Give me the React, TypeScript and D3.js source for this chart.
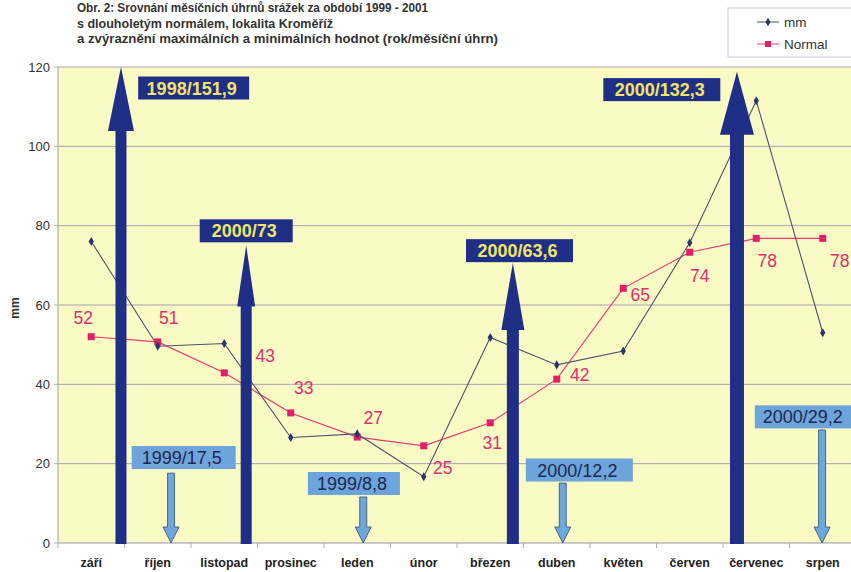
import React from "react";
import * as d3 from "d3";

const categories = ["září", "říjen", "listopad", "prosinec", "leden", "únor", "březen", "duben", "květen", "červen", "červenec", "srpen"];
const mmValues = [76.0, 49.6, 50.3, 26.6, 27.5, 16.7, 51.8, 44.9, 48.4, 75.7, 111.5, 53.0];
const normalValues = [52.0, 50.7, 42.9, 32.8, 26.7, 24.5, 30.3, 41.3, 64.2, 73.3, 76.8, 76.8];
const normalLabels = ["52", "51", "43", "33", "27", "25", "31", "42", "65", "74", "78", "78"];
const yTicks = [0, 20, 40, 60, 80, 100, 120];
const titleLines = [
  "Obr. 2: Srovnání měsíčních úhrnů srážek za období 1999 - 2001",
  "s dlouholetým normálem, lokalita Kroměříž",
  "a zvýraznění maximálních a minimálních hodnot (rok/měsíční úhrn)",
];
const legendLabels = ["mm", "Normal"];

// maxima annotations (label, arrow position as category index, arrow tip value)
const maxLabels = ["1998/151,9", "2000/73", "2000/63,6", "2000/132,3"];
const maxArrowAt = [0.947, 2.83, 6.84, 10.21];
const maxArrowTip = [120, 75, 70.6, 118.8];
// minima annotations
const minLabels = ["1999/17,5", "1999/8,8", "2000/12,2", "2000/29,2"];
const minArrowAt = [1.70, 4.59, 7.59, 11.49];
const minArrowTop = [17.6, 11.6, 15.1, 28.5];

// layout (not data)
const titleWidths = [351, 256, 421];
const maxBoxAt = [[2.04, 114.7], [2.83, 78.7], [6.94, 73.7], [9.08, 114.3]];
const maxBoxW = [111, 93, 107, 117];
const maxHead = [[26, 64], [18, 61], [23, 67], [34, 63]];
const maxShaft = [11, 11, 12, 14];
const minBoxAt = [[1.89, 21.55], [4.45, 15.0], [7.84, 18.4], [11.23, 31.8]];
const minBoxW = [104, 92, 107, 100];
const labelOffsets = [[-8, -19], [11, -24], [41, -17], [13, -25], [16, -19], [19, 22], [2, 20], [23, -4], [17, 7], [10, 24], [11, 23], [17, 23]];

const W = 851, H = 572;
const left = 58, right = 856, top = 67, bottom = 543;

export default function App() {
  const x = d3.scaleBand<string>().domain(categories).range([left, right]).padding(0);
  const xi = d3.scaleLinear().domain([0, categories.length]).range([left, right]);
  const y = d3.scaleLinear().domain([0, 120]).range([bottom, top]);
  const cx = (i: number) => (x(categories[i]) as number) + x.bandwidth() / 2;

  const line = d3.line<number>().x((_, i) => cx(i)).y((d) => y(d));

  const upArrow = (xc: number, tip: number, base: number, sw: number, hw: number, hh: number) => {
    const yt = y(tip);
    const yb = base;
    return `M${xc},${yt} L${xc + hw / 2},${yt + hh} L${xc + sw / 2},${yt + hh} L${xc + sw / 2},${yb} L${xc - sw / 2},${yb} L${xc - sw / 2},${yt + hh} L${xc - hw / 2},${yt + hh} Z`;
  };
  const downArrow = (xc: number, topV: number, sw: number, hw: number, hh: number) => {
    const yt = y(topV);
    const yb = y(0);
    return `M${xc - sw / 2},${yt} L${xc + sw / 2},${yt} L${xc + sw / 2},${yb - hh} L${xc + hw / 2},${yb - hh} L${xc},${yb} L${xc - hw / 2},${yb - hh} L${xc - sw / 2},${yb - hh} Z`;
  };

  const font = "Liberation Sans, Arial, sans-serif";
  const navy = "#1f2f86";

  return (
    <svg width={W} height={H} style={{ position: "absolute", left: 0, top: 0, background: "#fff" }} fontFamily={font}>
      {/* title */}
      {titleLines.map((t, i) => (
        <text key={i} x={77} y={12 + i * 15.5} fontSize={12} fontWeight="bold" fill="#333" textLength={titleWidths[i]} lengthAdjust="spacingAndGlyphs">{t}</text>
      ))}
      {/* legend */}
      <rect x={728} y={8} width={130} height={49} fill="#fff" stroke="#c8c8d8" strokeWidth={1} />
      <line x1={757} x2={779} y1={22} y2={22} stroke="#4a5070" strokeWidth={1} />
      <path d={d3.symbol(d3.symbolDiamond, 22)() as string} transform={`translate(768,22)`} fill="#2a356a" />
      <text x={784} y={26.5} fontSize={13.5} fill="#333">{legendLabels[0]}</text>
      <line x1={757} x2={779} y1={44} y2={44} stroke="#e83a6e" strokeWidth={1} />
      <rect x={765} y={41} width={6} height={6} fill="#e0206a" />
      <text x={784} y={48.5} fontSize={13.5} fill="#333">{legendLabels[1]}</text>

      {/* plot area */}
      <rect x={left} y={top} width={right - left} height={bottom - top} fill="#fafac4" />
      {yTicks.filter((t) => t > 0).map((t) => (
        <line key={t} x1={left} x2={right} y1={y(t)} y2={y(t)} stroke="#ac9fb8" strokeWidth={1} />
      ))}
      <line x1={left} x2={left} y1={top} y2={bottom} stroke="#a0a0a8" strokeWidth={1} />
      <line x1={left} x2={right} y1={bottom} y2={bottom} stroke="#9a96b0" strokeWidth={1.2} />
      {categories.map((c, i) => (
        <line key={c} x1={xi(i)} x2={xi(i)} y1={bottom} y2={bottom + 5} stroke="#b0b0b8" strokeWidth={1} />
      ))}
      {yTicks.map((t) => (
        <g key={t}>
          <line x1={left - 4} x2={left} y1={y(t)} y2={y(t)} stroke="#b0b0b8" />
          <text x={50} y={y(t) + 4.5} fontSize={13} textAnchor="end" fill="#333">{t}</text>
        </g>
      ))}
      <text transform={`translate(19,${308}) rotate(-90)`} fontSize={12} fontWeight="bold" textAnchor="middle" fill="#333">mm</text>
      {categories.map((c, i) => (
        <text key={c} x={cx(i)} y={567} fontSize={12.5} textAnchor="middle" fill="#222" fontWeight="bold">{c}</text>
      ))}

      {/* series */}
      <path d={line(normalValues) as string} fill="none" stroke="#e83a6e" strokeWidth={1.1} />
      {normalValues.map((v, i) => (
        <rect key={i} x={cx(i) - 3.5} y={y(v) - 3.5} width={7} height={7} fill="#e0206a" />
      ))}
      <path d={line(mmValues) as string} fill="none" stroke="#4d5270" strokeWidth={1.1} />
      {mmValues.map((v, i) => (
        <path key={i} d={d3.symbol(d3.symbolDiamond, 24)() as string} transform={`translate(${cx(i)},${y(v)})`} fill="#2a356a" />
      ))}
      {normalLabels.map((l, i) => (
        <text key={i} x={cx(i) + labelOffsets[i][0]} y={y(normalValues[i]) + labelOffsets[i][1] + 6} fontSize={17.5} textAnchor="middle" fill="#e0306a">{l}</text>
      ))}

      {/* maxima arrows */}
      {maxLabels.map((l, i) => (
        <g key={l}>
          <path d={upArrow(xi(maxArrowAt[i]), maxArrowTip[i], bottom + 1, maxShaft[i], maxHead[i][0], maxHead[i][1])} fill={navy} />
          <rect x={xi(maxBoxAt[i][0]) - maxBoxW[i] / 2} y={y(maxBoxAt[i][1]) - 11.5} width={maxBoxW[i]} height={23} fill={navy} />
          <text x={xi(maxBoxAt[i][0]) - 2} y={y(maxBoxAt[i][1]) + 6.5} fontSize={18} fontWeight="bold" textAnchor="middle" fill="#f0e46a">{l}</text>
        </g>
      ))}

      {/* minima arrows */}
      {minLabels.map((l, i) => (
        <g key={l}>
          <path d={downArrow(xi(minArrowAt[i]), minArrowTop[i], 7, 16, 16)} fill="#6ea7de" stroke="#3a4a6a" strokeWidth={0.8} />
          <rect x={xi(minBoxAt[i][0]) - minBoxW[i] / 2} y={y(minBoxAt[i][1]) - 11.5} width={minBoxW[i]} height={23} fill="#6ea4dc" />
          <text x={xi(minBoxAt[i][0]) - 2} y={y(minBoxAt[i][1]) + 6.5} fontSize={18} textAnchor="middle" fill="#1c2850">{l}</text>
        </g>
      ))}
    </svg>
  );
}
